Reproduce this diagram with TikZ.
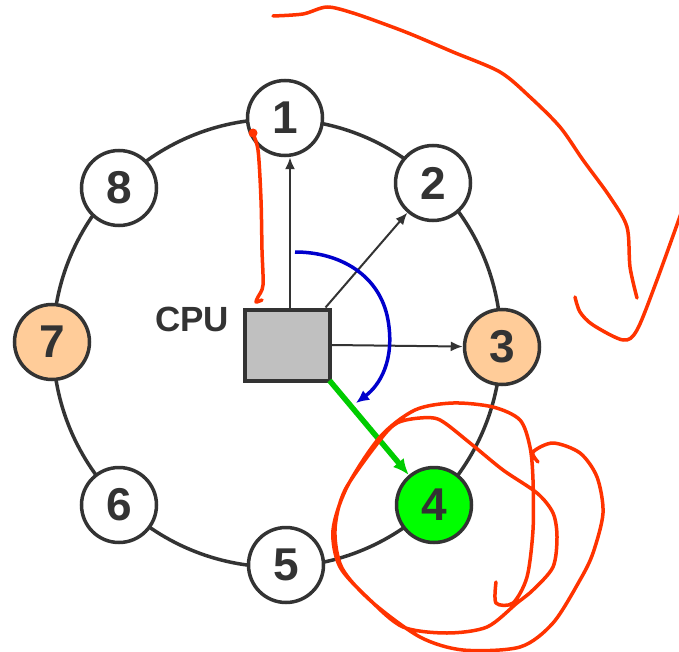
\documentclass[tikz,border=0pt]{standalone}
\usepackage{fontspec}
\setmainfont{Liberation Sans}
\usetikzlibrary{arrows.meta}

\definecolor{darkline}{HTML}{333333}
\definecolor{peach}{HTML}{FFCC99}
\definecolor{boxgray}{HTML}{C0C0C0}
\definecolor{greenline}{HTML}{00CC00}
\definecolor{greenfill}{HTML}{00FF00}
\definecolor{blueline}{HTML}{0000CC}
\definecolor{scribble}{HTML}{FF3300}

\begin{document}
\begin{tikzpicture}[x=1pt,y=-1pt,
    station/.style={circle, draw=darkline, line width=3.5pt, fill=white,
        minimum size=75pt, inner sep=0pt, text=darkline,
        font=\fontsize{46}{46}\selectfont\bfseries},
    link/.style={draw=darkline, line width=2pt,
        -{Latex[length=12pt,width=10pt]}},
    pen/.style={draw=scribble, line width=3.5pt, line cap=round, line join=round}]
    \useasboundingbox (0,0) rectangle (679,652);

    % Draw the ring
    \draw[darkline, line width=3.5pt] (277,343) circle (224pt);

    % Draw stations
    \node[station] (n1) at (285,118) {1};
    \node[station] (n2) at (433,183) {2};
    \node[station, fill=peach] (n3) at (502,347) {3};
    \node[station, fill=greenfill] (n4) at (434,505) {4};
    \node[station] (n5) at (286,565) {5};
    \node[station] (n6) at (119,505) {6};
    \node[station, fill=peach] (n7) at (52,342) {7};
    \node[station] (n8) at (119,188) {8};

    % Draw the CPU
    \node[draw=darkline, line width=4pt, fill=boxgray,
        minimum width=85pt, minimum height=71pt, inner sep=0pt] (cpu) at (287,345) {};
    \node[text=darkline, font=\fontsize{35}{35}\selectfont\bfseries] (cpulabel) at (192,319) {CPU};

    % Draw arrows
    \draw[link] ([xshift=3pt]cpu.north) -- ([xshift=3pt]cpu.north |- n1.south);
    \draw[link] ([xshift=-6pt]cpu.north east) -- (n2);
    \draw[link] (cpu.east) -- (n3);
    \draw[draw=greenline, line width=5.5pt, -{Latex[length=16pt,width=14pt]}]
        ([xshift=-2pt,yshift=2pt]cpu.south east) -- (n4);

    % Draw the blue turn
    \coordinate (bstart) at (295,252);
    \coordinate (bend) at (356,403);
    \draw[blueline, line width=3.5pt, -{Latex[length=13pt,width=12pt]}]
        (bstart) .. controls (340,252) and (380,275) .. (388,320)
        .. controls (395,360) and (380,385) .. (bend);

    % Draw the red pen strokes
    \draw[pen] plot[smooth, tension=0.5] coordinates {(252,132) (258,150) (261,200)
        (262,250) (263,285) (258,297) (256,302) (262,300)};
    \fill[scribble] (253,133) circle (4.5pt);
    \draw[pen] plot[smooth, tension=0.5] coordinates {(273,16) (303,14) (327,7) (353,13)
        (387,25) (413,35) (453,52) (500,72) (530,97) (560,127) (583,160) (610,197)
        (627,227) (630,267) (637,298)};
    \draw[pen] plot[smooth, tension=0.5] coordinates {(575,297) (580,312) (593,325)
        (623,340) (637,330) (657,280) (684,205)};
    \draw[pen] plot[smooth, tension=0.5] coordinates {(496,582) (496,603) (513,603)
        (527,577) (533,530) (533,480) (530,447) (520,420) (493,407) (453,403) (415,410)
        (380,437) (347,487) (333,530) (340,567) (370,600) (403,627) (447,633) (487,627)
        (517,603) (533,590) (553,567) (557,537) (553,513) (537,493) (503,470) (470,443)
        (440,420) (420,418) (397,423) (380,440) (345,490) (335,530) (342,568) (372,602)
        (420,637) (463,650) (520,647) (553,623) (580,580) (593,553) (603,513) (597,477)
        (580,453) (553,443) (533,452) (538,462)};
\end{tikzpicture}
\end{document}
